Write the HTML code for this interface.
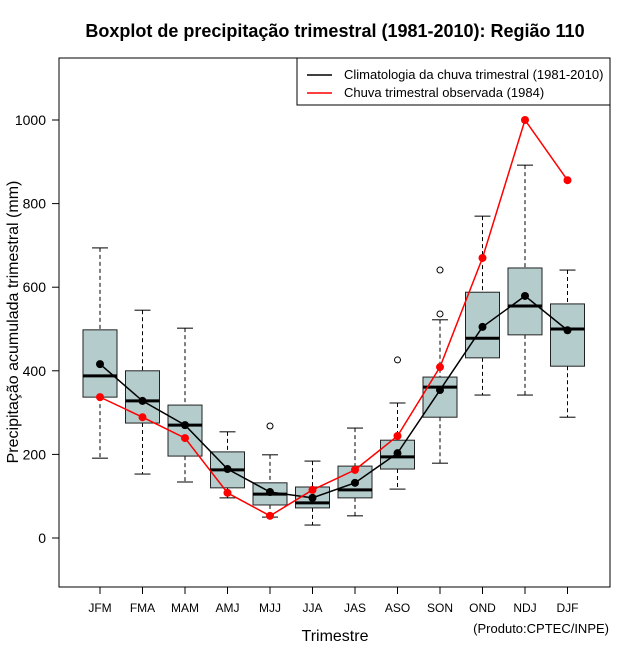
<!DOCTYPE html>
<html><head><meta charset="utf-8"><style>body{margin:0;background:#fff}svg{display:block;font-family:"Liberation Sans",sans-serif}</style></head>
<body>
<svg id="c" width="640" height="660">
<text x="335" y="37" text-anchor="middle" font-size="18" font-weight="bold">Boxplot de precipitação trimestral (1981-2010): Região 110</text>
<rect x="59" y="58" width="551" height="529" fill="none" stroke="#000"/>
<g id="yax"></g>
<g id="xax"></g>
<g id="boxes"></g>
<g id="lines"></g>
<text x="335" y="641" text-anchor="middle" font-size="16">Trimestre</text>
<text transform="translate(18,322) rotate(-90)" text-anchor="middle" font-size="16">Precipitação acumulada trimestral (mm)</text>
<text x="609" y="633" text-anchor="end" font-size="13">(Produto:CPTEC/INPE)</text>
<g>
<rect x="297" y="58" width="313" height="47" fill="#fff" stroke="#000"/>
<line x1="307" y1="75" x2="332" y2="75" stroke="#000" stroke-width="1.5"/>
<text x="344" y="79" font-size="13">Climatologia da chuva trimestral (1981-2010)</text>
<line x1="307" y1="93" x2="332" y2="93" stroke="red" stroke-width="1.5"/>
<text x="344" y="97" font-size="13">Chuva trimestral observada (1984)</text>
</g>
</svg>
<script>
const categories=["JFM","FMA","MAM","AMJ","MJJ","JJA","JAS","ASO","SON","OND","NDJ","DJF"];
const whiskerLow=[191,153,134,96,50,31,53,117,179,342,342,289];
const q1=[337,275,196,120,79,72,96,165,289,431,486,411];
const median=[388,328,270,163,105,84,115,194,361,478,555,500];
const q3=[498,400,318,206,132,122,172,234,385,588,646,560];
const whiskerHigh=[694,545,502,254,199,184,263,323,522,770,892,641];
const outliers=[[],[],[],[],[268],[],[],[426],[536,641],[],[],[]];
const climMean=[416,328,270,165,110,96,132,203,354,505,579,497];
const observed=[337,289,239,108,53,115,163,244,409,670,1000,856];
const yTicks=[0,200,400,600,800,1000];
const NS="http://www.w3.org/2000/svg";
const y=v=>538-v*0.418;
const x=i=>100+i*42.5;
function mk(p,t,a){const e=document.createElementNS(NS,t);for(const k in a)e.setAttribute(k,a[k]);p.appendChild(e);return e;}
const yax=document.getElementById('yax'),xax=document.getElementById('xax'),bx=document.getElementById('boxes'),ln=document.getElementById('lines');
mk(yax,'line',{x1:59,x2:59,y1:y(0),y2:y(1000),stroke:'#000'});
yTicks.forEach(t=>{mk(yax,'line',{x1:52,x2:59,y1:y(t),y2:y(t),stroke:'#000'});
const tx=mk(yax,'text',{x:46,y:y(t)+5,'text-anchor':'end','font-size':14});tx.textContent=t;

});
mk(xax,'line',{x1:x(0),x2:x(11),y1:587,y2:587,stroke:'#000'});
categories.forEach((c,i)=>{mk(xax,'line',{x1:x(i),x2:x(i),y1:587,y2:594,stroke:'#000'});
const tx=mk(xax,'text',{x:x(i),y:612,'text-anchor':'middle','font-size':12});tx.textContent=c;


const g=mk(bx,'g',{});


const X=x(i),h=17,w=8;
mk(g,'line',{x1:X,x2:X,y1:y(whiskerHigh[i]),y2:y(q3[i]),stroke:'#000','stroke-dasharray':'4,3'});
mk(g,'line',{x1:X,x2:X,y1:y(q1[i]),y2:y(whiskerLow[i]),stroke:'#000','stroke-dasharray':'4,3'});
mk(g,'line',{x1:X-w,x2:X+w,y1:y(whiskerHigh[i]),y2:y(whiskerHigh[i]),stroke:'#000'});
mk(g,'line',{x1:X-w,x2:X+w,y1:y(whiskerLow[i]),y2:y(whiskerLow[i]),stroke:'#000'});
mk(g,'rect',{x:X-h,y:y(q3[i]),width:2*h,height:y(q1[i])-y(q3[i]),fill:'#b4cccc',stroke:'#222'});
mk(g,'line',{x1:X-h,x2:X+h,y1:y(median[i]),y2:y(median[i]),stroke:'#000','stroke-width':3});
outliers[i].forEach(o=>mk(g,'circle',{cx:X,cy:y(o),r:3,fill:'none',stroke:'#000'}));});
function series(vals,col,name){const g=mk(ln,'g',{});


mk(g,'polyline',{points:vals.map((v,i)=>x(i)+','+y(v)).join(' '),fill:'none',stroke:col,'stroke-width':1.5});
vals.forEach((v,i)=>mk(g,'circle',{cx:x(i),cy:y(v),r:4,fill:col}));}
series(climMean,'#000','climatology-line');
series(observed,'red','observed-line');
</script>
</body></html>
